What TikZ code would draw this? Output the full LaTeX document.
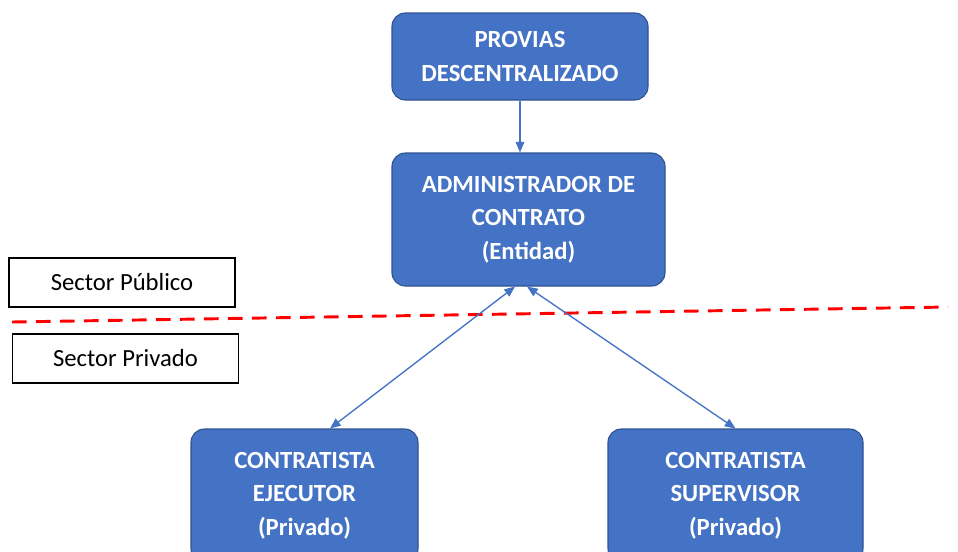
\documentclass[tikz,border=0pt]{standalone}
\usepackage{fontspec}
\setmainfont{Carlito}
\usetikzlibrary{arrows.meta}
\definecolor{boxblue}{HTML}{4472C4}
\definecolor{boxedge}{HTML}{2F528F}
\definecolor{arrowblue}{HTML}{4472C4}
\begin{document}
\begin{tikzpicture}[x=0.75pt,y=-0.75pt,
  bluebox/.style={draw=boxedge, line width=0.8pt, fill=boxblue, rounded corners=10pt,
    text=white, font=\bfseries\fontsize{18.5}{25.2}\selectfont, align=center, inner sep=0pt},
  sectorbox/.style={draw=black, line width=0.8pt, fill=white, inner sep=0pt,
    minimum width=169.5pt, minimum height=36.75pt, font=\fontsize{18.5}{21}\selectfont},
  conn/.style={draw=arrowblue, line width=1pt},
  tipb/.style={-{Triangle[width=6.5pt,length=8pt]}},
  dtip/.style={{Triangle[width=6.5pt,length=8pt]}-{Triangle[width=6.5pt,length=8pt]}},
  divider/.style={draw=red, line width=2.2pt, dash pattern=on 11pt off 7pt}]
\useasboundingbox (0,0) rectangle (958,551);
\clip (0,0) rectangle (958,551);

\node[bluebox, minimum width=192pt, minimum height=65.25pt] (top) at (520,56.5)
  {PROVIAS\\DESCENTRALIZADO};
\node[bluebox, minimum width=204.75pt, minimum height=99.75pt] (admin) at (528.5,219.5)
  {ADMINISTRADOR DE\\CONTRATO\\(Entidad)};
\node[bluebox, minimum width=170.25pt, minimum height=99.75pt] (ej) at (304.5,495.5)
  {CONTRATISTA\\EJECUTOR\\(Privado)};
\node[bluebox, minimum width=191.25pt, minimum height=99.75pt] (sup) at (735.5,495.5)
  {CONTRATISTA\\SUPERVISOR\\(Privado)};

\node[sectorbox] (pub) at (122,282.5) {Sector Público};
\node[sectorbox] (priv) at (125.5,358.5) {Sector Privado};

\coordinate (dl) at (12,322);
\coordinate (dr) at (948,307);
\path[divider] (dl) -- (dr);

\draw[conn, tipb] (top.south) -- (top.south |- admin.north);
\draw[conn, dtip] ([xshift=-10.1pt]admin.south) -- ([xshift=19.1pt]ej.north);
\draw[conn, dtip] ([xshift=-1.1pt]admin.south) -- ([xshift=0pt]sup.north);
\end{tikzpicture}
\end{document}
